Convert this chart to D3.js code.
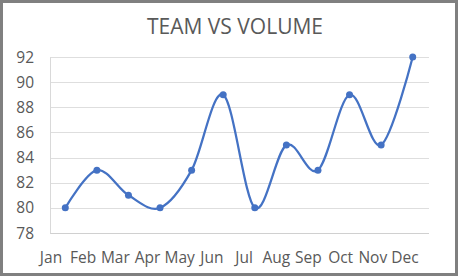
<!DOCTYPE html>
<html>
<head>
<meta charset="utf-8">
<script src="https://cdn.jsdelivr.net/npm/d3@7"></script>
<style>
  body { margin: 0; background: #fff; }
  text { font-family: "Open Sans", "Noto Sans", sans-serif; fill: #595959; }
</style>
</head>
<body>
<div id="chart"></div>
<script>
const months = ["Jan", "Feb", "Mar", "Apr", "May", "Jun", "Jul", "Aug", "Sep", "Oct", "Nov", "Dec"];
const volume = [80, 83, 81, 80, 83, 89, 80, 85, 83, 89, 85, 92];
const yTicks = [78, 80, 82, 84, 86, 88, 90, 92];
const title = "TEAM VS VOLUME";

const W = 458, H = 276;
const plot = {left: 50, right: 429, top: 57, bottom: 233};

const svg = d3.select("#chart")
    .append("svg")
    .attr("width", W)
    .attr("height", H);

svg.append("rect")
    .attr("x", 1.5).attr("y", 1.5)
    .attr("width", W - 3).attr("height", H - 3)
    .attr("fill", "#fff")
    .attr("stroke", "#808080")
    .attr("stroke-width", 3);

svg.append("text")
    .attr("x", 235).attr("y", 34)
    .attr("text-anchor", "middle")
    .style("font-size", "21px")
    .text(title);

// scales
const x = d3.scaleBand()
    .domain(months)
    .range([plot.left - 0.5, plot.right - 0.5]);
// labels sit slightly left of the points in the original
const xLabel = d3.scalePoint()
    .domain(months)
    .range([51, 405]);
const y = d3.scaleLinear()
    .domain([78, 92])
    .range([plot.bottom, plot.top]);

// gridlines
svg.append("g")
    .selectAll("line")
    .data(yTicks)
    .enter()
    .append("line")
    .attr("x1", plot.left).attr("x2", plot.right)
    .attr("y1", d => Math.round(y(d)) + 0.5)
    .attr("y2", d => Math.round(y(d)) + 0.5)
    .attr("stroke", d => d === 78 ? "#d0d0d0" : "#dedede")
    .attr("stroke-width", 1);

svg.append("line")
    .attr("x1", plot.left + 0.5).attr("x2", plot.left + 0.5)
    .attr("y1", Math.round(y(92)) + 0.5).attr("y2", Math.round(y(78)) + 0.5)
    .attr("stroke", "#d9d9d9");

// y axis labels
svg.append("g")
    .selectAll("text")
    .data(yTicks)
    .enter()
    .append("text")
    .attr("x", 34)
    .attr("y", d => y(d))
    .attr("dy", "0.36em")
    .attr("text-anchor", "end")
    .style("font-size", "15.5px")
    .text(d => d);

// x axis labels
svg.append("g")
    .selectAll("text")
    .data(months)
    .enter()
    .append("text")
    .attr("x", d => xLabel(d))
    .attr("y", 257)
    .attr("dy", "0.36em")
    .attr("text-anchor", "middle")
    .style("font-size", "15.5px")
    .text(d => d);

const pts = months.map((m, i) => ({month: m, value: volume[i]}));
const cx = d => x(d.month) + x.bandwidth() / 2;

const line = d3.line()
    .x(cx)
    .y(d => y(d.value))
    .curve(d3.curveCatmullRom.alpha(0));

svg.append("path")
    .datum(pts)
    .attr("d", line)
    .attr("fill", "none")
    .attr("stroke", "#4472C4")
    .attr("stroke-width", 2.25);

svg.append("g")
    .selectAll("circle")
    .data(pts)
    .enter()
    .append("circle")
    .attr("cx", cx)
    .attr("cy", d => y(d.value))
    .attr("r", 3.5)
    .attr("fill", "#4472C4");
</script>
</body>
</html>
